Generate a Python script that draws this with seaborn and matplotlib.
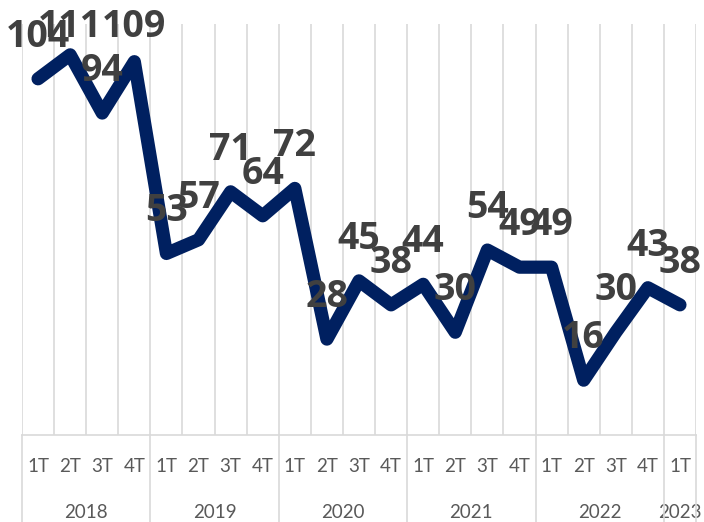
import matplotlib
matplotlib.use("Agg")
import matplotlib.pyplot as plt
import matplotlib.transforms as mtransforms
from matplotlib.lines import Line2D
import seaborn as sns
import pandas as pd

quarters = ["1T", "2T", "3T", "4T"] * 5 + ["1T"]
years = ["2018", "2019", "2020", "2021", "2022", "2023"]
year_counts = [4, 4, 4, 4, 4, 1]
values = [104, 111, 94, 109, 53, 57, 71, 64, 72, 28, 45, 38, 44, 30, 54, 49, 49, 16, 30, 43, 38]

sns.set_theme(style="white")
plt.rcParams["font.family"] = ["Lato", "DejaVu Sans"]

df = pd.DataFrame({"idx": list(range(len(values))), "value": values})

W, H = 704, 522
fig = plt.figure(figsize=(W / 100, H / 100), dpi=100)
left, right, top, bottom = 22, 696, 24, 435
ax = fig.add_axes([left / W, 1 - bottom / H, (right - left) / W, (bottom - top) / H])

sns.lineplot(data=df, x="idx", y="value", ax=ax, color="#002060", linewidth=9.5,
             solid_capstyle="round", solid_joinstyle="round", zorder=3)

n = len(values)
ax.set_xlim(-0.5, n - 0.5)
ax.set_ylim(0, 120)
for b in range(n + 1):
    ax.axvline(b - 0.5, color="#d9d9d9", linewidth=1.2, zorder=1)

for s in ["top", "right", "left"]:
    ax.spines[s].set_visible(False)
ax.spines["bottom"].set_color("#d9d9d9")
ax.spines["bottom"].set_linewidth(1.2)
ax.set_xticks([])
ax.set_yticks([])
ax.set_xlabel("")
ax.set_ylabel("")

# data labels: centered ~42 px above point, but kept inside the chart area
px_per_unit = (bottom - top) / 120
for i, v in enumerate(values):
    py = bottom - v * px_per_unit
    ly = max(py - 42, 27)
    ax.annotate(str(v), (i, v), xytext=(0, (py - ly) * 0.72), textcoords="offset points",
                ha="center", va="center", fontsize=27, fontweight="bold",
                family=["Open Sans", "DejaVu Sans"], color="#404040", zorder=4)

trans = mtransforms.blended_transform_factory(ax.transData, fig.transFigure)
for i, q in enumerate(quarters):
    ax.text(i, 1 - 467 / H, q, transform=trans, ha="center", va="center",
            fontsize=13.5, color="#595959")

start = 0
seps = [0]
for y, c in zip(years, year_counts):
    center = start + (c - 1) / 2
    ax.text(center, 1 - 512 / H, y, transform=trans, ha="center", va="center",
            fontsize=13.5, color="#595959")
    start += c
    seps.append(start)
for s in seps:
    fig.add_artist(Line2D([s - 0.5, s - 0.5], [1 - bottom / H, 0], transform=trans,
                          color="#d9d9d9", linewidth=1.2, clip_on=False))

fig.savefig("out.png", dpi=100, facecolor="white")
